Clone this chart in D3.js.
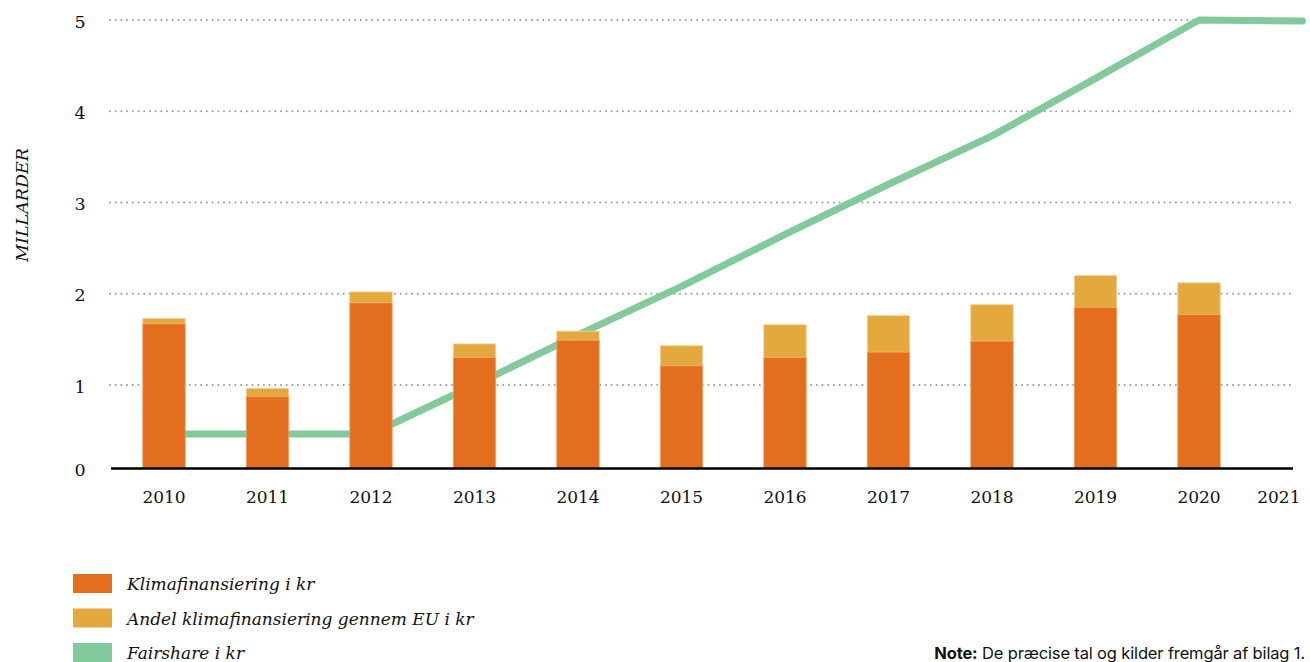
<!DOCTYPE html>
<html>
<head>
<meta charset="utf-8">
<script src="https://cdn.jsdelivr.net/npm/d3@7"></script>
<style>
  body { margin: 0; background: #fff; }
  svg { display: block; }
</style>
</head>
<body>
<div id="chart-area"></div>
<script>
// data, milliarder kr
var years = ["2010", "2011", "2012", "2013", "2014", "2015", "2016", "2017", "2018", "2019", "2020", "2021"];
var klima = [1.67, 0.86, 1.90, 1.30, 1.49, 1.21, 1.30, 1.36, 1.48, 1.85, 1.77, null];
var euAndel = [0.06, 0.10, 0.12, 0.15, 0.10, 0.22, 0.36, 0.40, 0.40, 0.35, 0.35, null];
var fairshare = [0.41, 0.41, 0.41, 1.00, 1.55, 2.08, 2.65, 3.20, 3.73, 4.36, 5.00, 4.99];
var yTicks = [0, 1, 2, 3, 4, 5];
var legendLabels = ["Klimafinansiering i kr", "Andel klimafinansiering gennem EU i kr", "Fairshare i kr"];

var width = 1310, height = 662;
var colors = { klima: "#e36f1e", eu: "#e4a93d", fair: "#82c99b" };

var svg = d3.select("#chart-area")
  .append("svg")
  .attr("width", width)
  .attr("height", height);

var x = d3.scaleBand()
  .domain(years)
  .range([112.25, 1354.25])
  .paddingInner(0.59)
  .paddingOuter(0.295);

// the gridlines in the original are not quite even below 1
var y = d3.scaleLinear()
  .domain([0, 1, 5])
  .range([468, 385, 20]);

// gridlines
svg.append("g")
  .selectAll("line")
  .data(yTicks.filter(d => d > 0))
  .enter().append("line")
  .attr("x1", 110)
  .attr("x2", 1293)
  .attr("y1", d => y(d))
  .attr("y2", d => y(d))
  .attr("stroke", "#9a9a9a")
  .attr("stroke-width", 2)
  .attr("stroke-linecap", "round")
  .attr("stroke-dasharray", "0,5.7");

// y tick labels
var yAxisG = svg.append("g")
  .attr("transform", "translate(92, 0)")
  .call(d3.axisLeft(y).tickValues(yTicks).tickFormat(d3.format("d")).tickSize(0).tickPadding(0));
yAxisG.select(".domain").remove();
yAxisG.selectAll("text")
  .attr("x", -12)
  .attr("text-anchor", "middle")
  .attr("dy", "0.4em")
  .style("font-family", "'DejaVu Serif', serif")
  .style("font-size", "17.5px")
  .style("fill", "#111");

svg.append("text")
  .attr("transform", "translate(28, 205) rotate(-90)")
  .attr("text-anchor", "middle")
  .style("font-family", "'DejaVu Serif', serif")
  .style("font-style", "italic")
  .style("font-size", "17.5px")
  .style("fill", "#111")
  .text("MILLARDER");

// fairshare line, behind the bars
var line = d3.line()
  .x((d, i) => x(years[i]) + x.bandwidth() / 2)
  .y(d => y(d));

svg.append("path")
  .datum(fairshare)
  .attr("d", line)
  .attr("fill", "none")
  .attr("stroke", colors.fair)
  .attr("stroke-width", 7)
  .attr("stroke-linecap", "round")
  .attr("stroke-linejoin", "round");

// stacked bars
var barData = years.map((yr, i) => ({ year: yr, klima: klima[i], eu: euAndel[i] }))
  .filter(d => d.klima != null);

var bars = svg.append("g").selectAll("g")
  .data(barData)
  .enter().append("g");

bars.append("rect")
  .attr("x", d => x(d.year))
  .attr("width", x.bandwidth())
  .attr("y", d => y(d.klima + d.eu))
  .attr("height", d => y(d.klima) - y(d.klima + d.eu))
  .attr("fill", colors.eu)
  .attr("stroke", "#f6d39a")
  .attr("stroke-width", 0.8);

bars.append("rect")
  .attr("x", d => x(d.year))
  .attr("width", x.bandwidth())
  .attr("y", d => y(d.klima))
  .attr("height", d => y(0) - y(d.klima))
  .attr("fill", colors.klima)
  .attr("stroke", "#f0a06a")
  .attr("stroke-width", 0.8);

// baseline
svg.append("line")
  .attr("x1", 111)
  .attr("x2", 1293)
  .attr("y1", y(0) + 0.5)
  .attr("y2", y(0) + 0.5)
  .attr("stroke", "#000")
  .attr("stroke-width", 2.6);

// x axis labels
var xAxisG = svg.append("g")
  .attr("transform", "translate(0, 491)")
  .call(d3.axisBottom(x).tickSize(0).tickPadding(0));
xAxisG.select(".domain").remove();
xAxisG.selectAll("text")
  .attr("dy", "0.71em")
  .style("font-family", "'DejaVu Serif', serif")
  .style("font-size", "17px")
  .style("fill", "#111");
// last label is pulled in so it fits the page
xAxisG.selectAll(".tick").filter(d => d === "2021").select("text")
  .attr("text-anchor", "end")
  .attr("dx", -2);

// legend
var legend = svg.append("g").selectAll("g")
  .data(legendLabels)
  .enter().append("g")
  .attr("transform", (d, i) => "translate(73, " + (574 + i * 34.5) + ")");

legend.append("rect")
  .attr("width", 39)
  .attr("height", 19)
  .attr("fill", (d, i) => [colors.klima, colors.eu, colors.fair][i]);

legend.append("text")
  .attr("x", 54)
  .attr("y", 16)
  .style("font-family", "'DejaVu Serif', serif")
  .style("font-style", "italic")
  .style("font-size", "17px")
  .style("fill", "#111")
  .text(d => d);

// note
var note = svg.append("text")
  .attr("x", 1305)
  .attr("y", 659)
  .attr("text-anchor", "end")
  .style("font-family", "Inter, sans-serif")
  .style("font-size", "16.5px")
  .style("letter-spacing", "-0.15px")
  .style("fill", "#111");
note.append("tspan").style("font-weight", "bold").text("Note:");
note.append("tspan").text(" De præcise tal og kilder fremgår af bilag 1.");
</script>
</body>
</html>
